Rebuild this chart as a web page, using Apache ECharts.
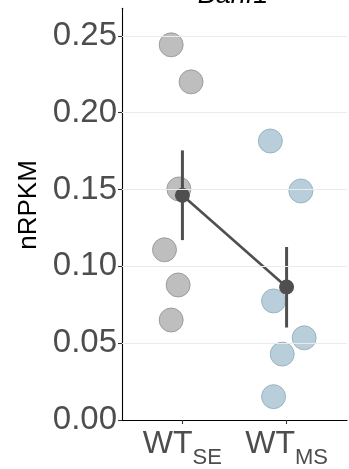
<!DOCTYPE html>
<html>
<head>
<meta charset="utf-8">
<script src="https://cdn.jsdelivr.net/npm/echarts@6/dist/echarts.min.js"></script>
<style>
html,body{margin:0;padding:0;background:#fff;}
#c{width:349px;height:469px;}
</style>
</head>
<body>
<div id="c"></div>
<script>
// ---- data ----
const title = 'Banf1';
const yName = 'nRPKM';
const catMain = ['WT', 'WT'];
const catSub = ['SE', 'MS'];
const catPos = [1, 2];
const yTicks = [0, 0.05, 0.10, 0.15, 0.20, 0.25];

// individual samples (x = category position + jitter)
const seX = [0.892, 1.083, 0.966, 0.828, 0.959, 0.892];
const seY = [0.2442, 0.2201, 0.1504, 0.1108, 0.0879, 0.0651];
const msX = [1.844, 2.137, 1.875, 2.169, 1.958, 1.875];
const msY = [0.1816, 0.1491, 0.0775, 0.0535, 0.0429, 0.0152];

// group means and error bar limits
const meanY = [0.1463, 0.0866];
const errLow = [0.1171, 0.0602];
const errHigh = [0.1755, 0.1126];

const chart = echarts.init(document.getElementById('c'), null, {renderer: 'canvas'});

const seData = seX.map((x, i) => [x, seY[i]]);
const msData = msX.map((x, i) => [x, msY[i]]);
const meanData = catPos.map((x, i) => [x, meanY[i]]);
const errData = catPos.map((x, i) => [x, errLow[i], errHigh[i]]);

const FONT = '"Liberation Sans", Arial, sans-serif';

const option = {
  animation: false,
  backgroundColor: '#ffffff',
  grid: {left: 122, right: 2, top: 8.28, bottom: 48, containLabel: false},
  graphic: [
    {
      type: 'text', x: 233, y: 9,
      style: {text: title, font: 'italic 27px ' + FONT,
              fill: '#000', textAlign: 'center', textVerticalAlign: 'bottom'}
    },
    {
      type: 'text', x: 29, y: 205, rotation: Math.PI / 2,
      style: {text: yName, font: '26px ' + FONT,
              fill: '#000', textAlign: 'center', textVerticalAlign: 'middle'}
    }
  ],
  xAxis: {
    type: 'value', min: 0.42, max: 2.58,
    splitLine: {show: false},
    axisLine: {show: true, onZero: false, lineStyle: {color: '#000', width: 1.1}},
    axisTick: {show: true, length: 4, customValues: catPos, lineStyle: {color: '#333', width: 1.1}},
    axisLabel: {
      show: true, margin: 17, customValues: catPos,
      formatter: function (v) {
        const i = catPos.indexOf(Math.round(v));
        if (i < 0) return '';
        return '{m|' + catMain[i] + '}{s|' + catSub[i] + '}';
      },
      rich: {
        m: {fontSize: 32, lineHeight: 32, color: '#4d4d4d', fontFamily: FONT, verticalAlign: 'bottom', padding: [0, 0, 9, 0]},
        s: {fontSize: 22, lineHeight: 22, color: '#4d4d4d', fontFamily: FONT, verticalAlign: 'bottom'}
      }
    }
  },
  yAxis: {
    type: 'value', min: 0, max: 0.268,
    splitLine: {show: false},
    axisLine: {show: true, lineStyle: {color: '#000', width: 1.1}},
    axisTick: {show: true, length: 4, customValues: yTicks, lineStyle: {color: '#333', width: 1.1}},
    axisLabel: {
      show: true, margin: 5, customValues: yTicks,
      fontSize: 33, color: '#4d4d4d', fontFamily: FONT,
      formatter: v => v.toFixed(2)
    }
  },
  series: [
    {
      type: 'line', data: [], z: 0, silent: true,
      markLine: {
        silent: true, symbol: ['none', 'none'], label: {show: false},
        lineStyle: {color: '#ebebeb', type: 'solid', width: 1},
        data: yTicks.filter(v => v > 0).map(v => ({yAxis: v}))
      }
    },
    {
      type: 'scatter', data: seData, symbolSize: 24, z: 2,
      itemStyle: {color: '#bebebe', borderColor: '#8f8f8f', borderWidth: 0.8, opacity: 1}
    },
    {
      type: 'scatter', data: msData, symbolSize: 24, z: 2,
      itemStyle: {color: '#b8cfdb', borderColor: '#8ea8b6', borderWidth: 0.8, opacity: 1}
    },
    {
      type: 'custom', z: 3, data: errData,
      renderItem: function (params, api) {
        const p1 = api.coord([api.value(0), api.value(1)]);
        const p2 = api.coord([api.value(0), api.value(2)]);
        return {type: 'line', shape: {x1: p1[0], y1: p1[1], x2: p2[0], y2: p2[1]},
                style: {stroke: '#4f4f4f', lineWidth: 3}};
      }
    },
    {
      type: 'line', data: meanData, z: 4, symbol: 'circle', symbolSize: 15,
      lineStyle: {color: '#4f4f4f', width: 2.6},
      itemStyle: {color: '#4f4f4f', borderWidth: 0}
    }
  ]
};
chart.setOption(option);
</script>
</body>
</html>
